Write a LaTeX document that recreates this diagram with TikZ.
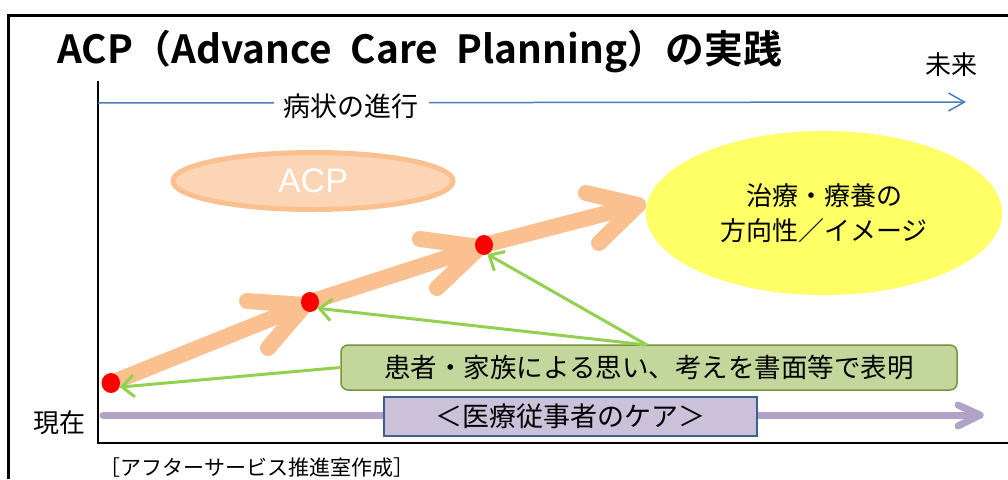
\documentclass[tikz,border=0pt]{standalone}
\usepackage{fontspec}
\setmainfont{Noto Sans CJK JP}[BoldFont={Noto Sans CJK JP Bold}]
\newfontfamily\latfont{Liberation Sans}
\usetikzlibrary{arrows.meta,shapes.geometric}
\definecolor{blueline}{HTML}{4A7EBB}
\definecolor{orng}{HTML}{FAC090}
\definecolor{acpfill}{HTML}{FBD5B5}
\definecolor{yel}{HTML}{FFFF66}
\definecolor{grn}{HTML}{92D050}
\definecolor{gboxfill}{HTML}{C3D69B}
\definecolor{gboxdraw}{HTML}{77933C}
\definecolor{purp}{HTML}{B3A2C7}
\definecolor{pboxfill}{HTML}{CCC1DA}
\definecolor{pboxdraw}{HTML}{3F5F8F}
\newcommand{\fs}[1]{\fontsize{#1}{#1}\selectfont}
\tikzset{
  axisline/.style={line width=2.5pt, black},
  bluearrow/.style={draw=blueline, line width=1.5pt, -{Straight Barb[length=16pt,width=18pt]}},
  orangeline/.style={draw=orng, line width=16pt, line cap=round, line join=round},
  reddot/.style={circle, fill=red, minimum size=19pt, inner sep=0pt},
  greenarrow/.style={draw=grn, line width=3pt, -{Straight Barb[length=12pt,width=22pt]}},
  purpleline/.style={draw=purp, line width=7pt, line cap=round, line join=round},
  txt/.style={inner sep=0pt},
}
\begin{document}
\begin{tikzpicture}[x=1pt,y=-1pt]
\useasboundingbox (0,0) rectangle (1008,479);
\fill[white] (0,0) rectangle (1008,479);

% frame
\draw[line width=3pt] (8.5,479) -- (8.5,15) -- (1008,15);

% title
\node[txt, anchor=base west] (title) at (57,63)
  {\resizebox{725pt}{!}{\fs{42}\bfseries ACP（Advance\hspace{0.25em} Care\hspace{0.25em} Planning）の実践}};
\node[txt] (mirai) at (951,65) {\fs{26}未来};

% axes
\coordinate (ytop) at (98,81);
\coordinate (origin) at (98,443);
\coordinate (xend) at (1008,443);
\draw[axisline] (ytop) -- (origin) -- (xend);

% disease progression arrow
\coordinate (bstart) at (98,103);
\coordinate (bend) at (966,102);
\draw[bluearrow] (bstart) -- (bend);
\node[fill=white, inner xsep=10pt, inner ysep=2pt] (byo) at (351,106) {\fs{27}病状の進行};

% ACP ellipse
\node[ellipse, fill=acpfill, draw=orng, line width=5pt, minimum width=280pt, minimum height=57pt, inner sep=0pt] (acp) at (313,181)
  {\latfont\fs{34}\color{white}ACP};

% goal ellipse
\node[ellipse, fill=yel, minimum width=356pt, minimum height=164pt, inner sep=0pt, align=center] (goal) at (824,213)
  {\fs{26}治療・療養の\\[10pt]\fs{26}方向性／イメージ};

% orange progress arrows
\coordinate (t1) at (305,305);
\coordinate (a1u) at (247,301);
\coordinate (a1l) at (268,348);
\coordinate (t2) at (480,247);
\coordinate (a2u) at (420,239);
\coordinate (a2l) at (437,288);
\coordinate (t3) at (638,205);
\coordinate (a3u) at (586,193);
\coordinate (a3l) at (599,243);

\node[reddot] (d1) at (111,383) {};
\node[reddot] (d2) at (310,302) {};
\node[reddot] (d3) at (484,245) {};

\begin{scope}[on background layer/.style={}]
\draw[orangeline] (d1.center) -- (t1);
\draw[orangeline] (a1u) -- (t1) -- (a1l);
\draw[orangeline] (d2.center) -- (t2);
\draw[orangeline] (a2u) -- (t2) -- (a2l);
\draw[orangeline] (d3.center) -- (t3);
\draw[orangeline] (a3u) -- (t3) -- (a3l);
\end{scope}

% redraw dots on top
\fill[red] (d1) circle[x radius=9pt, y radius=10pt];
\fill[red] (d2) circle[x radius=9pt, y radius=10pt];
\fill[red] (d3) circle[x radius=9pt, y radius=10pt];

% caregivers arrow
\coordinate (pstart) at (103,415);
\coordinate (pend) at (980,415);
\coordinate (pa1) at (958,405);
\coordinate (pa2) at (958,426);
\draw[purpleline] (pstart) -- (pend);
\draw[purpleline] (pa1) -- (pend) -- (pa2);
\node[fill=pboxfill, draw=pboxdraw, line width=1.5pt, minimum width=373pt, minimum height=39pt, inner sep=0pt] (pbox) at (570.5,416.5)
  {\fs{27}＜医療従事者のケア＞};

% green box and arrows
\node[fill=gboxfill, draw=gboxdraw, line width=1.5pt, rounded corners=7pt, minimum width=616pt, minimum height=45pt, inner sep=0pt] (gb) at (649,367.5)
  {\fs{26.5}患者・家族による思い、考えを書面等で表明};
\coordinate (gsrc) at (647,345);
\draw[greenarrow] (gb.west) -- (d1.-25);
\draw[greenarrow] (gsrc) -- (d2.-40);
\draw[greenarrow] (gsrc) -- (d3.-70);

% labels
\node[txt] (genzai) at (59,423) {\fs{26}現在};
\node[txt] (credit) at (257,468) {\fs{21}［アフターサービス推進室作成］};
\end{tikzpicture}
\end{document}
